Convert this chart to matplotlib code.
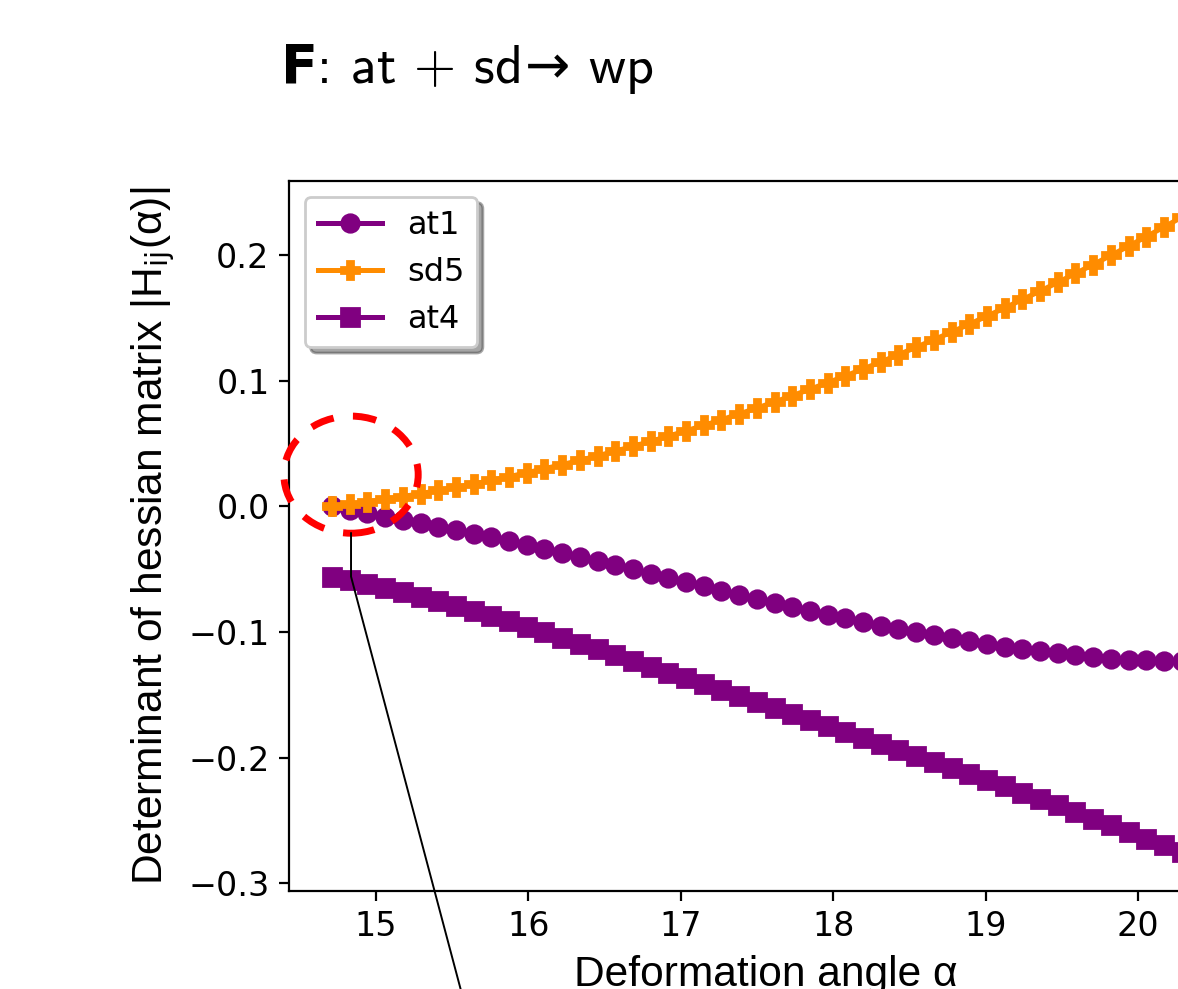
import matplotlib
matplotlib.use("Agg")
import matplotlib.pyplot as plt
from matplotlib.patches import Ellipse

# deformation angle grid
alpha = [14.712, 14.828, 14.944, 15.060, 15.176, 15.293, 15.409, 15.525, 15.641, 15.757,
         15.873, 15.989, 16.105, 16.221, 16.337, 16.454, 16.570, 16.686, 16.802, 16.918,
         17.034, 17.150, 17.266, 17.382, 17.498, 17.615, 17.731, 17.847, 17.963, 18.079,
         18.195, 18.311, 18.427, 18.543, 18.659, 18.776, 18.892, 19.008, 19.124, 19.240,
         19.356, 19.472, 19.588, 19.704, 19.820, 19.937, 20.053, 20.169, 20.285, 20.401]

at1 = [0.0000, -0.0026, -0.0053, -0.0080, -0.0107, -0.0134, -0.0162, -0.0190, -0.0218, -0.0247,
       -0.0276, -0.0306, -0.0337, -0.0369, -0.0401, -0.0434, -0.0467, -0.0500, -0.0534, -0.0568,
       -0.0602, -0.0636, -0.0670, -0.0703, -0.0736, -0.0768, -0.0800, -0.0831, -0.0861, -0.0891,
       -0.0920, -0.0948, -0.0975, -0.1001, -0.1026, -0.1050, -0.1073, -0.1095, -0.1116, -0.1136,
       -0.1154, -0.1170, -0.1185, -0.1199, -0.1210, -0.1218, -0.1223, -0.1226, -0.1227, -0.1228]

sd5 = [0.0000, 0.0018, 0.0037, 0.0058, 0.0079, 0.0102, 0.0127, 0.0152, 0.0179, 0.0207,
       0.0237, 0.0268, 0.0300, 0.0333, 0.0367, 0.0403, 0.0440, 0.0479, 0.0518, 0.0559,
       0.0602, 0.0645, 0.0690, 0.0736, 0.0783, 0.0832, 0.0882, 0.0933, 0.0985, 0.1039,
       0.1094, 0.1150, 0.1208, 0.1267, 0.1327, 0.1388, 0.1451, 0.1515, 0.1580, 0.1647,
       0.1714, 0.1783, 0.1854, 0.1925, 0.1998, 0.2072, 0.2148, 0.2224, 0.2302, 0.2380]

at4 = [-0.0558, -0.0588, -0.0619, -0.0651, -0.0684, -0.0718, -0.0754, -0.0792, -0.0831, -0.0872,
       -0.0913, -0.0956, -0.1001, -0.1046, -0.1092, -0.1138, -0.1184, -0.1230, -0.1276, -0.1322,
       -0.1367, -0.1414, -0.1461, -0.1508, -0.1555, -0.1602, -0.1649, -0.1696, -0.1744, -0.1792,
       -0.1840, -0.1888, -0.1936, -0.1984, -0.2032, -0.2081, -0.2130, -0.2179, -0.2228, -0.2277,
       -0.2327, -0.2379, -0.2432, -0.2485, -0.2538, -0.2591, -0.2644, -0.2697, -0.2750, -0.2803]

x_ticks = [15, 16, 17, 18, 19, 20]
y_ticks = [-0.3, -0.2, -0.1, 0.0, 0.1, 0.2]

# highlight around the crossing point, and the leader line to the (cropped) inset
circle_center = (14.837, 0.0253)
circle_size = (0.881, 0.0932)
leader_x = [14.837, 14.837, 15.70]
leader_y = [-0.0213, -0.0558, -0.45]

label_font = "Liberation Sans"

fig = plt.figure(figsize=(5.89, 4.945), dpi=200)
ax = fig.add_axes([0.2453, 0.0991, 0.8098, 0.7179])

ax.plot(alpha, at1, color="purple", marker="o", ms=6.3, lw=1.8, label="at1")
ax.plot(alpha, sd5, color="darkorange", marker="P", ms=6.5, lw=1.8, label="sd5")
ax.plot(alpha, at4, color="purple", marker="s", ms=6.3, lw=1.8, label="at4")

ax.add_patch(Ellipse(circle_center, *circle_size, fill=False, edgecolor="red",
                     lw=2.5, linestyle=(0, (3.4, 2.8)), clip_on=False, zorder=5))
ax.plot(leader_x, leader_y, color="black", lw=0.7, clip_on=False, zorder=6)

ax.set_xlim(14.43, 20.686)
ax.set_ylim(-0.306, 0.259)
ax.set_xticks(x_ticks)
ax.set_yticks(y_ticks)
ax.tick_params(labelsize=12)

ax.set_xlabel("Deformation angle α", fontsize=15.3, family=label_font)
ax.set_ylabel(r"Determinant of hessian matrix |H$_\mathrm{ij}$(α)|", fontsize=15.3, family=label_font)

ax.legend(loc="upper left", fontsize=11.5, shadow=True, framealpha=1)

fig.text(0.2377, 0.916, r"$\mathbf{F}$: at + sd$\!\rightarrow\,$wp", fontsize=19.5,
         family=["cmss10", "DejaVu Sans"], va="baseline")

fig.savefig("out.png", dpi=200)
